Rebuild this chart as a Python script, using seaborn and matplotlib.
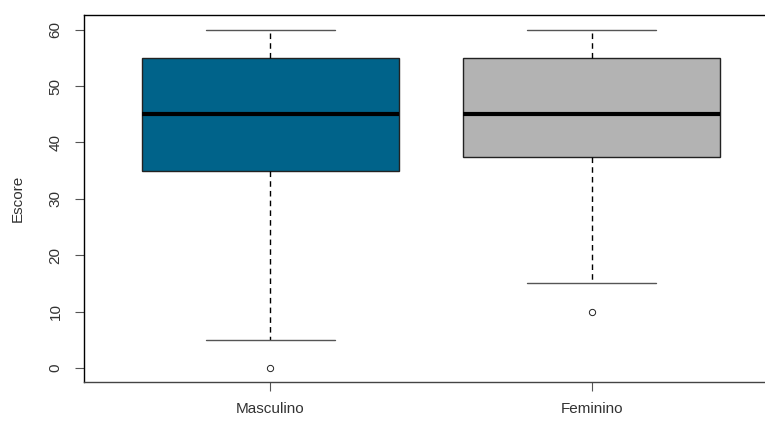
import matplotlib
matplotlib.use("Agg")
import matplotlib.pyplot as plt
import seaborn as sns
import pandas as pd

# Data (sample values reproducing the box statistics)
groups = ["Masculino", "Feminino"]
masculino_scores = [0, 5, 35, 40, 45, 50, 55, 60, 60]
feminino_scores = [10, 15, 37.5, 40, 45, 50, 55, 60, 60]
box_colors = ["#00638A", "#B3B3B3"]
y_ticks = [0, 10, 20, 30, 40, 50, 60]

df = pd.DataFrame({
    "Sexo": ["Masculino"] * len(masculino_scores) + ["Feminino"] * len(feminino_scores),
    "Escore": masculino_scores + feminino_scores,
})

sns.set_style("ticks")
plt.rcParams["font.family"] = ["Liberation Sans", "DejaVu Sans"]

fig = plt.figure(figsize=(7.65, 4.21), dpi=100)
# axes right edge extends past the figure (clipped as in the reference)
ax = fig.add_axes([84 / 765, 1 - 382 / 421, (778 - 84) / 765, (382 - 15) / 421])

sns.boxplot(
    data=df, x="Sexo", y="Escore", hue="Sexo", order=groups, hue_order=groups,
    palette=box_colors, width=0.8, whis=1.5, legend=False, ax=ax,
    linecolor="black", linewidth=1.0,
    medianprops=dict(color="black", linewidth=3),
    whiskerprops=dict(color="black", linestyle=(0, (4, 3)), linewidth=1.0),
    capprops=dict(color="#555555", linewidth=1.0),
    boxprops=dict(edgecolor="#222222", linewidth=1.0),
    flierprops=dict(marker="o", markersize=4.5, markerfacecolor="white",
                    markeredgecolor="#222222", markeredgewidth=0.7),
    capwidths=0.4, saturation=1,
)

ax.set_xlim(-0.58, 1.58)
ax.set_ylim(-2.5, 62.6)
ax.set_yticks(y_ticks)
ax.set_yticklabels([str(t) for t in y_ticks], rotation=90, va="center", fontsize=11, color="#333333")
ax.tick_params(axis="x", labelsize=11, colors="#333333", length=6.5, pad=8)
ax.tick_params(axis="y", length=6.5, pad=9)
ax.tick_params(axis="x", color="#555555")
ax.tick_params(axis="y", color="#555555")
ax.set_xlabel("")
ax.set_ylabel("Escore", fontsize=11, color="#333333", labelpad=17)

for side in ["left", "top", "right", "bottom"]:
    ax.spines[side].set_visible(True)
    ax.spines[side].set_color("black")
    ax.spines[side].set_linewidth(1.0)
ax.spines["bottom"].set_color("#444444")

fig.savefig("out.png", dpi=100)
